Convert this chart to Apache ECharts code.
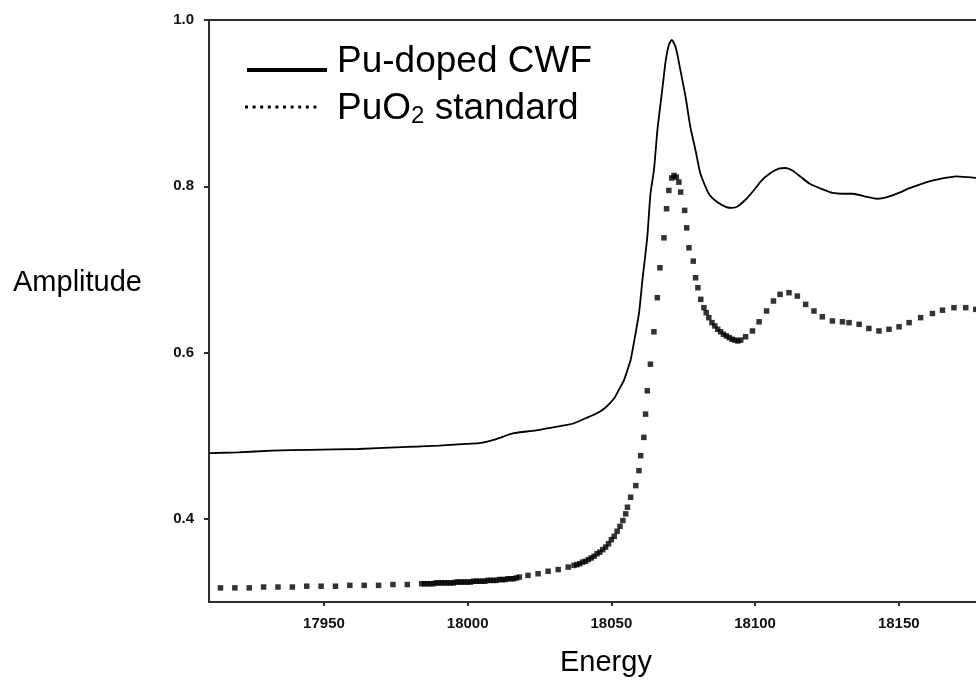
<!DOCTYPE html>
<html>
<head>
<meta charset="utf-8">
<script src="https://cdn.jsdelivr.net/npm/echarts@6/dist/echarts.min.js"></script>
<style>
html,body{margin:0;padding:0;background:#fff;overflow:hidden;width:976px;height:683px;}
#chart{width:1000px;height:683px;}
</style>
</head>
<body>
<div id="chart"></div>
<script>
// ---- data ----
var xTicks = [17950, 18000, 18050, 18100, 18150];
var yTicks = [0.4, 0.6, 0.8, 1.0];
var seriesNames = ['Pu-doped CWF', 'PuO\u2082 standard'];

// Pu-doped CWF: [energy, amplitude]
var cwfEnergy = [17910,17920,17932,17945,17962,17975,17983,17990,17998,18004,18010,18016,18023,18028,18033,18037,18041,18045,18048,18051,18052.4,18054.4,18055.5,18056.7,18058,18059.6,18060.8,18062.5,18063.6,18064.8,18066,18067.1,18068,18068.9,18070,18071,18072.3,18073,18074,18075.8,18077.5,18079.3,18081,18083.9,18086.8,18090,18092,18094,18097,18100,18102,18105,18108,18110.6,18113,18116,18119,18123,18127,18131,18134,18138,18142.6,18146,18150,18154,18158,18162,18166,18170,18174,18180];
var cwfValue  = [0.479,0.480,0.482,0.483,0.484,0.486,0.487,0.488,0.490,0.491,0.496,0.503,0.506,0.509,0.512,0.515,0.521,0.527,0.534,0.545,0.554,0.567,0.578,0.591,0.615,0.647,0.687,0.739,0.791,0.819,0.867,0.899,0.925,0.951,0.970,0.976,0.968,0.958,0.940,0.908,0.871,0.843,0.815,0.791,0.781,0.775,0.774,0.776,0.785,0.797,0.806,0.815,0.821,0.822,0.819,0.811,0.803,0.797,0.792,0.791,0.791,0.788,0.785,0.787,0.792,0.798,0.803,0.807,0.810,0.812,0.811,0.809];

// PuO2 standard: [energy, amplitude]
var stdEnergy = [17914,17919,17924,17929,17934,17939,17944,17949,17954,17959,17964,17969,17974,17979,
  17984,17985,17986,17987,17988,17989,17990,17991,17992,17993,17994,17995,17996,17997,17998,17999,18000,18001,18002,18003,18004,18005,18006,18007,18008,18009,18010,18011,18012,18013,18014,18015,18016,18017,18018,
  18021,18024.5,18028,18031.5,18035,
  18037,18038,18039,18040,18041,18042,18043,18044,18045,18046,18047,18048,18049,18050,18051,18052,18053,18054,18055,
  18055.6,18056.7,18058.5,18059.6,18060.2,18061.3,18061.9,18062.5,18063.6,18064.8,18066.0,18066.9,18068.3,18069.2,18070.0,18071.0,18071.8,18072.6,18073.5,18074.1,18075.5,18076.2,18077.0,18078.5,18079.3,18080.1,18081.1,18082.2,18083.0,18083.9,
  18085,18086,18087,18088,18089,18090,18091,18092,18093,18094,18095,18096.7,
  18099.1,18101.4,18104,18106.4,18108.7,18111.8,18114.7,18117.6,18120.5,18123.4,18126.9,18130.4,18132.7,18136.2,18139.6,18143.1,18146.6,18150.1,18153.6,18157.6,18161.7,18165.2,18169.2,18173.3,18176.8];
var stdValue = [0.317,0.317,0.317,0.318,0.318,0.318,0.319,0.319,0.319,0.320,0.320,0.320,0.321,0.321,
  0.322,0.322,0.322,0.322,0.322,0.323,0.323,0.323,0.323,0.323,0.323,0.323,0.324,0.324,0.324,0.324,0.324,0.324,0.325,0.325,0.325,0.325,0.325,0.326,0.326,0.326,0.326,0.327,0.327,0.327,0.328,0.328,0.328,0.329,0.330,
  0.332,0.334,0.337,0.339,0.342,
  0.344,0.345,0.346,0.348,0.349,0.351,0.353,0.355,0.358,0.360,0.363,0.366,0.370,0.375,0.379,0.385,0.391,0.398,0.406,
  0.414,0.426,0.440,0.458,0.476,0.498,0.526,0.554,0.586,0.625,0.666,0.702,0.738,0.773,0.795,0.810,0.813,0.811,0.805,0.793,0.771,0.750,0.726,0.710,0.690,0.678,0.664,0.654,0.648,0.642,
  0.636,0.632,0.628,0.625,0.622,0.620,0.618,0.616,0.615,0.614,0.615,0.619,
  0.626,0.637,0.650,0.662,0.670,0.672,0.668,0.658,0.650,0.643,0.638,0.637,0.636,0.634,0.629,0.626,0.628,0.631,0.636,0.642,0.647,0.651,0.654,0.654,0.652];

function pairs(xs, ys){ var out=[]; for(var i=0;i<xs.length;i++){ out.push([xs[i], ys[i]]); } return out; }

var chart = echarts.init(document.getElementById('chart'), null, {renderer:'canvas'});
var axisColor = '#2e2e2e';
var font = 'Arial, "Liberation Sans", Helvetica, sans-serif';

chart.setOption({
  animation: false,
  backgroundColor: '#ffffff',
  grid: { left: 209, right: 15, top: 20, bottom: 81, show: true, borderColor: axisColor, borderWidth: 2, backgroundColor: 'transparent' },
  xAxis: {
    type: 'value', min: 17910, max: 18180,
    splitLine: { show: false },
    axisLine: { show: true, onZero: false, lineStyle: { color: axisColor, width: 2 } },
    axisTick: { show: true, length: 4, customValues: xTicks, lineStyle: { color: axisColor, width: 2 } },
    axisLabel: { customValues: xTicks, margin: 14, color: '#111', fontSize: 15, fontWeight: 'bold', fontFamily: font,
      formatter: function(v){ return String(v); } }
  },
  yAxis: {
    type: 'value', min: 0.3, max: 1.0,
    splitLine: { show: false },
    axisLine: { show: true, onZero: false, lineStyle: { color: axisColor, width: 2 } },
    axisTick: { show: true, length: 5, customValues: yTicks, lineStyle: { color: axisColor, width: 2 } },
    axisLabel: { customValues: yTicks, margin: 15, color: '#111', fontSize: 15, fontWeight: 'bold', fontFamily: font,
      formatter: function(v){ return v.toFixed(1); } }
  },
  series: [
    { name: seriesNames[0], type: 'line', data: pairs(cwfEnergy, cwfValue), showSymbol: false, symbol: 'none',
      lineStyle: { color: '#000', width: 1.8 }, smooth: 0.2 },
    { name: seriesNames[1], type: 'scatter', data: pairs(stdEnergy, stdValue), symbol: 'rect', symbolSize: 5.5,
      itemStyle: { color: '#000' } }
  ],
  graphic: [
    { type: 'line', shape: { x1: 247, y1: 70, x2: 327, y2: 70 }, style: { stroke: '#000', lineWidth: 4 } },
    { type: 'line', shape: { x1: 245, y1: 107, x2: 321, y2: 107 }, style: { stroke: '#000', lineWidth: 3, lineDash: [3, 4.6] } },
    { type: 'text', left: 337, top: 43, style: { text: seriesNames[0], font: '37px ' + font, fill: '#000' } },
    { type: 'text', left: 337, top: 90, style: {
        text: '{a|PuO}{s|2}{a| standard}', fill: '#000',
        rich: { a: { fontSize: 37, fontFamily: font, color: '#000' }, s: { fontSize: 24, fontFamily: font, color: '#000', verticalAlign: 'bottom', padding: [15, 0, 0, 0] } } } },
    { type: 'text', left: 13, top: 268, style: { text: 'Amplitude', font: '29px ' + font, fill: '#000' } },
    { type: 'text', left: 560, top: 648, style: { text: 'Energy', font: '29px ' + font, fill: '#000' } }
  ]
});
</script>
</body>
</html>
